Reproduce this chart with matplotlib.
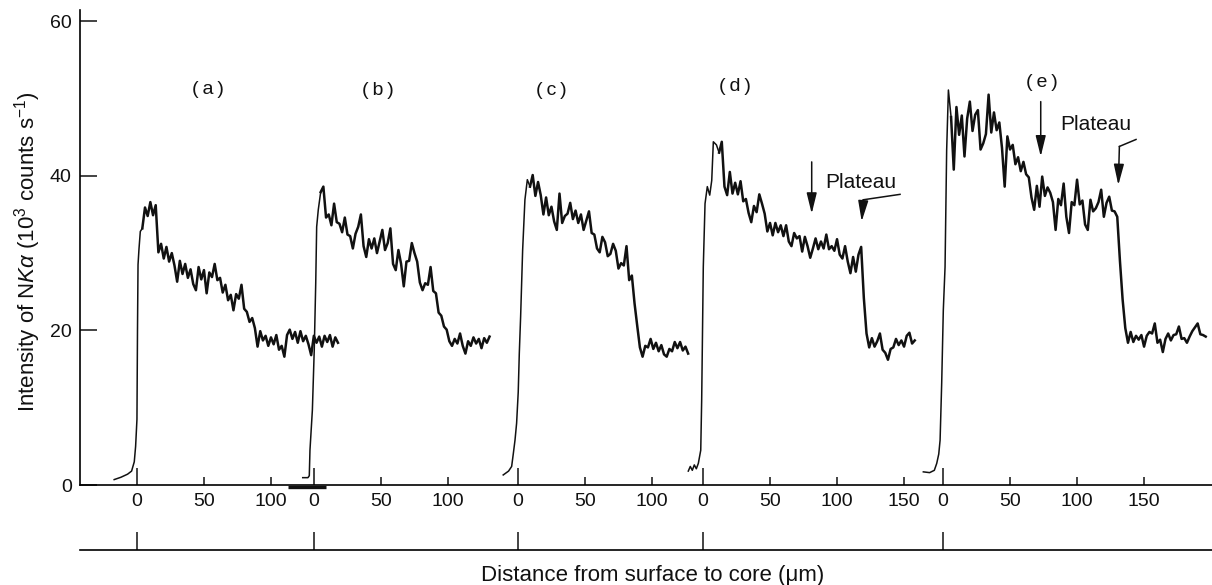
import numpy as np
import matplotlib
matplotlib.use("Agg")
import matplotlib.pyplot as plt
from matplotlib.patches import FancyArrowPatch

plt.rcParams['font.family'] = ['Liberation Sans', 'DejaVu Sans']
plt.rcParams['mathtext.fontset'] = 'custom'
plt.rcParams['mathtext.rm'] = 'Liberation Sans'
plt.rcParams['mathtext.it'] = 'Liberation Sans:italic'
plt.rcParams['mathtext.bf'] = 'Liberation Sans:bold'

# ---------------- data ----------------
panel_labels = ['a', 'b', 'c', 'd', 'e']
tick_values = [[0, 50, 100], [0, 50, 100], [0, 50, 100], [0, 50, 100, 150], [0, 50, 100, 150]]
body_step = 2.0

# (a)
a_rise_x = [-17, -12, -7, -4, -2, -1, 0, 0.4, 0.8, 1.5, 2.5]
a_rise_y = [0.7, 1.0, 1.4, 1.8, 3.0, 5.0, 8.5, 20.0, 28.5, 30.5, 32.8]
a_body_start = 4
a_body_y = [33.2, 35.9, 34.8, 36.6, 34.9, 36.2, 30.1, 31.2, 29.3, 30.8,
            28.9, 30.0, 28.4, 26.3, 29.0, 27.3, 28.6, 26.8, 27.9, 26.0,
            25.2, 28.2, 26.6, 27.8, 24.8, 27.5, 26.9, 28.6, 26.5, 26.8,
            24.9, 25.9, 23.9, 24.6, 22.6, 24.7, 24.1, 25.9, 22.8, 22.4,
            21.1, 21.6, 20.3, 17.9, 19.9, 18.7, 19.3, 18.0, 19.1, 18.2,
            19.4, 17.5, 18.0, 16.6, 19.4, 20.1, 18.9, 19.8, 18.4, 19.9,
            18.6, 19.3, 18.2, 16.8, 19.3, 18.4, 19.2, 17.9, 19.3, 18.5,
            19.4, 17.9, 19.1, 18.4]

# (b)
b_rise_x = [-8.4, -4.5, -3.5, -3.0, -1.2, 0.2, 1.3, 2.0, 3.2]
b_rise_y = [0.95, 0.95, 1.2, 4.5, 9.7, 17.5, 26.1, 33.4, 35.6]
b_body_start = 5
b_body_y = [37.9, 38.6, 34.6, 35.0, 33.6, 36.4, 34.0, 33.8, 32.7, 34.6,
            32.4, 32.2, 30.6, 32.5, 33.4, 35.0, 30.9, 29.5, 31.8, 30.6,
            31.9, 30.0, 31.5, 33.0, 30.4, 31.3, 33.2, 28.6, 27.8, 30.4,
            28.6, 25.7, 28.9, 29.0, 31.3, 30.0, 28.9, 26.2, 25.2, 26.1,
            25.9, 28.2, 25.1, 24.8, 22.3, 21.9, 20.5, 20.1, 18.6, 18.0,
            18.9, 18.3, 19.6, 18.0, 17.0, 18.6, 18.0, 19.1, 18.3, 18.9,
            17.7, 19.0, 18.4, 19.2]

# (c)
c_rise_x = [-11, -7, -4.7, -3.5, -2.2, -1, 0.2, 1, 2, 3.5, 5.2, 7]
c_rise_y = [1.3, 1.8, 2.4, 4.0, 5.8, 8.0, 12.0, 17.0, 21.8, 30.4, 36.9, 39.5]
c_body_start = 9
c_body_y = [38.6, 40.1, 37.4, 39.2, 37.5, 35.0, 37.2, 34.9, 36.0, 34.1,
            33.0, 37.7, 33.9, 34.8, 35.1, 36.5, 34.4, 35.5, 33.9, 35.0,
            33.0, 34.2, 35.4, 32.6, 32.4, 30.6, 30.1, 32.1, 31.4, 29.6,
            29.9, 31.2, 30.3, 28.0, 28.7, 28.4, 30.9, 26.5, 27.1, 23.5,
            20.6, 17.8, 16.6, 18.0, 17.8, 18.9, 17.6, 18.4, 17.3, 18.1,
            16.9, 16.6, 17.6, 17.3, 18.5, 17.7, 18.5, 17.4, 17.9, 17.0]

# (d)
d_rise_x = [-11, -9.5, -8, -6.5, -5, -3.5, -1.7, -1, 0.2, 1.5, 3.2, 5, 6.5, 7.7, 10]
d_rise_y = [1.8, 2.4, 1.9, 2.6, 2.1, 2.8, 4.5, 11.0, 28.2, 36.4, 38.6, 37.5, 39.4, 44.4, 44.0]
d_body_start = 12
d_body_y = [43.0, 44.4, 38.6, 37.5, 40.5, 37.7, 39.1, 37.6, 39.3, 36.7,
            37.0, 35.2, 34.0, 36.1, 35.3, 37.6, 36.4, 35.1, 32.8, 33.9,
            32.3, 33.9, 32.7, 33.6, 32.2, 33.6, 31.5, 30.9, 32.6, 31.9,
            32.2, 30.2, 32.1, 30.9, 29.4, 30.6, 31.9, 30.5, 31.5, 30.6,
            32.4, 30.5, 30.9, 30.3, 31.8, 29.8, 29.3, 30.9, 28.9, 27.4,
            29.5, 27.6, 29.8, 30.8, 24.2, 19.6, 17.8, 19.0, 17.9, 18.6,
            19.6, 17.5, 17.1, 16.2, 17.6, 17.8, 18.9, 18.1, 18.7, 17.9,
            19.3, 19.7, 18.3, 18.7]

# (e)
e_rise_x = [-14.7, -10, -6.5, -4.7, -3.2, -2.2, -1, 0.2, 1.5, 2.7, 4]
e_rise_y = [1.7, 1.6, 1.9, 2.8, 4.0, 5.8, 13.2, 22.6, 28.2, 43.3, 51.1]
e_body_start = 6
e_body_y = [47.6, 40.8, 48.9, 45.3, 47.8, 42.5, 47.4, 49.6, 45.8, 47.9,
            48.5, 43.4, 44.2, 45.4, 50.5, 45.6, 48.2, 45.9, 46.9, 43.6,
            38.6, 45.1, 43.4, 44.0, 41.5, 42.4, 40.6, 41.8, 40.2, 39.8,
            37.2, 35.6, 38.7, 36.0, 39.9, 37.4, 38.5, 37.8, 36.6, 33.0,
            37.0, 36.2, 39.0, 34.7, 32.6, 36.6, 36.2, 39.5, 36.3, 36.8,
            33.7, 33.0, 36.9, 35.4, 35.8, 36.6, 38.2, 34.7, 36.5, 37.3,
            35.5, 35.4, 34.7, 29.0, 24.0, 20.3, 18.4, 19.8, 18.5, 19.3,
            18.8, 19.4, 17.9, 19.3, 19.8, 19.6, 20.9, 18.4, 18.8, 17.2,
            18.9, 19.6, 18.7, 19.4, 19.5, 20.5, 18.9, 19.0, 18.4, 19.2,
            19.9, 20.4, 20.9, 19.5, 19.4, 19.2]

rise_x = [a_rise_x, b_rise_x, c_rise_x, d_rise_x, e_rise_x]
rise_y = [a_rise_y, b_rise_y, c_rise_y, d_rise_y, e_rise_y]
body_start = [a_body_start, b_body_start, c_body_start, d_body_start, e_body_start]
body_y = [a_body_y, b_body_y, c_body_y, d_body_y, e_body_y]

# ---------------- layout ----------------
W, H = 1212, 585
panel_offsets = [0.0, 132.1, 284.3, 422.4, 601.5]      # shift of each panel on the shared axis
label_pos = [(52.6, 51.2), (179.9, 51.0), (309.0, 51.0), (446.3, 51.5), (675.4, 52.1)]

fig = plt.figure(figsize=(W / 100, H / 100), dpi=100)
fig.patch.set_facecolor('white')
ax = fig.add_axes([80 / W, 100 / H, 1132 / W, 475 / H])
xmin, xmax = -42.5, 802.2
ax.set_xlim(xmin, xmax)
ax.set_ylim(0, 61.45)

for s in ['top', 'right']:
    ax.spines[s].set_visible(False)
for s in ['left', 'bottom']:
    ax.spines[s].set_linewidth(1.2)

ink = '#111111'
for k in range(5):
    rx = panel_offsets[k] + np.asarray(rise_x[k], float)
    ry = np.asarray(rise_y[k], float)
    bx = panel_offsets[k] + body_start[k] + body_step * np.arange(len(body_y[k]))
    by = np.asarray(body_y[k], float)
    # thin steep rise, heavier noisy profile
    ax.plot(np.append(rx, bx[0]), np.append(ry, by[0]), color=ink, lw=1.1,
            solid_joinstyle='round')
    ax.plot(bx, by, color=ink, lw=1.8, solid_joinstyle='round')
    lx, ly = label_pos[k]
    ax.text(lx, ly, '(\u2009' + panel_labels[k] + '\u2009)', ha='center', va='center',
            fontsize=14, color=ink)

# x ticks: long ticks at each panel zero, short ticks elsewhere
major_pos = [panel_offsets[k] for k in range(5)]
minor_pos, minor_lab = [], []
for k in range(5):
    for t in tick_values[k]:
        if t != 0:
            minor_pos.append(panel_offsets[k] + t)
            minor_lab.append(str(t))
ax.set_xticks(major_pos, ['0'] * 5)
ax.set_xticks(minor_pos, minor_lab, minor=True)
ax.tick_params(axis='x', which='both', direction='in', width=1.1, labelsize=14, pad=6,
               colors=ink)
ax.tick_params(axis='x', which='major', length=12.2)
ax.tick_params(axis='x', which='minor', length=5.8)

ax.set_yticks([0, 20, 40, 60], ['0', '20', '40', '60'])
ax.tick_params(axis='y', direction='in', length=12.2, width=1.1, labelsize=14, pad=6,
               colors=ink)

# thicker piece of the base line near (b) zero
ax.plot([112.7, 141.0], [-0.25, -0.25], color=ink, lw=2.4, clip_on=False,
        solid_capstyle='butt')

# annotations: arrows and "Plateau"
def down_arrow(x, y0, y1):
    ax.add_patch(FancyArrowPatch((x, y0), (x, y1),
                                 arrowstyle='-|>,head_length=0.9,head_width=0.22',
                                 mutation_scale=14, color=ink, lw=1.1, shrinkA=0, shrinkB=0))

def bent_arrow(p0, p1, tip):
    ax.plot([p0[0], p1[0]], [p0[1], p1[1]], color=ink, lw=1.1)
    ax.add_patch(FancyArrowPatch(p1, tip,
                                 arrowstyle='-|>,head_length=0.9,head_width=0.22',
                                 mutation_scale=14, color=ink, lw=1.1, shrinkA=0, shrinkB=0))

# (d)
down_arrow(503.5, 41.8, 35.1)
ax.text(540.3, 39.1, 'Plateau', ha='center', va='center', fontsize=15, color=ink)
bent_arrow((569.4, 37.6), (542.0, 36.9), (540.8, 34.1))
# (e)
down_arrow(674.4, 49.6, 42.5)
ax.text(715.5, 46.6, 'Plateau', ha='center', va='center', fontsize=15, color=ink)
bent_arrow((745.5, 44.7), (733.1, 43.8), (732.3, 38.8))

# secondary base line with marks at each panel zero
ax2 = fig.add_axes([80 / W, 35 / H, 1132 / W, 0.001])
ax2.set_xlim(xmin, xmax)
ax2.set_ylim(0, 1)
ax2.patch.set_visible(False)
for s in ['top', 'right', 'left']:
    ax2.spines[s].set_visible(False)
ax2.spines['bottom'].set_linewidth(1.2)
ax2.set_yticks([])
ax2.set_xticks(major_pos, [''] * 5)
ax2.tick_params(axis='x', direction='in', length=13, width=1.1, colors=ink)

# axis titles
fig.text(28 / W, 1 - 252 / H, r'Intensity of N$K\alpha$ (10$^{3}$ counts s$^{-1}$)',
         rotation=90, ha='center', va='center', fontsize=16, color=ink)
fig.text(653 / W, 1 - 575 / H, 'Distance from surface to core (\u03bcm)',
         ha='center', va='center', fontsize=16, color=ink)

fig.savefig('out.png', dpi=100, facecolor='white')
